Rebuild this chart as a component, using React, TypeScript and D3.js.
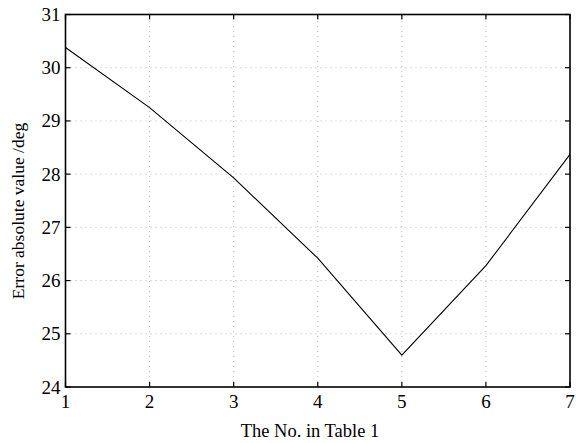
import React from "react";
import * as d3 from "d3";

const xValues = [1, 2, 3, 4, 5, 6, 7];
const yValues = [30.38, 29.25, 27.93, 26.42, 24.6, 26.28, 28.37];
const xTicks = [1, 2, 3, 4, 5, 6, 7];
const yTicks = [24, 25, 26, 27, 28, 29, 30, 31];
const xLabel = "The No. in Table 1";
const yLabel = "Error absolute value /deg";

export default function App() {
  const W = 576, H = 443;
  const m = { left: 65.5, right: 6, top: 14.5, bottom: 56 };
  const x = d3.scaleLinear().domain([1, 7]).range([m.left, W - m.right]);
  const y = d3.scaleLinear().domain([24, 31]).range([H - m.bottom, m.top]);
  const line = d3.line<number>().x((_, i) => x(xValues[i])).y((d) => y(d));
  const font = "'Liberation Serif', 'Times New Roman', serif";
  const x0 = x(1), x1 = x(7), y0 = y(24), y1 = y(31);
  const tl = 5;
  return (
    <svg width={W} height={H} style={{ position: "absolute", left: 0, top: 0, background: "#fff" }}>
      <rect width={W} height={H} fill="#fff" />
      {xTicks.slice(1, -1).map((t) => (
        <line key={"gx" + t} x1={x(t)} x2={x(t)} y1={y0} y2={y1} stroke="#bbb" strokeWidth={1} strokeDasharray="1,4" />
      ))}
      {yTicks.slice(1, -1).map((t) => (
        <line key={"gy" + t} x1={x0} x2={x1} y1={y(t)} y2={y(t)} stroke="#bbb" strokeWidth={1} strokeDasharray="1,4" />
      ))}
      <path d={line(yValues) || ""} fill="none" stroke="#000" strokeWidth={1.1} />
      {xTicks.map((t) => (
        <g key={"tx" + t}>
          <line x1={x(t)} x2={x(t)} y1={y0} y2={y0 - tl} stroke="#000" strokeWidth={1.2} />
          <line x1={x(t)} x2={x(t)} y1={y1} y2={y1 + tl} stroke="#000" strokeWidth={1.2} />
          <text x={x(t)} y={y0 + 21} textAnchor="middle" fontFamily={font} fontSize={19}>{t}</text>
        </g>
      ))}
      {yTicks.map((t) => (
        <g key={"ty" + t}>
          <line x1={x0} x2={x0 + tl} y1={y(t)} y2={y(t)} stroke="#000" strokeWidth={1.2} />
          <line x1={x1} x2={x1 - tl} y1={y(t)} y2={y(t)} stroke="#000" strokeWidth={1.2} />
          <text x={x0 - 5} y={y(t) + 6.5} textAnchor="end" fontFamily={font} fontSize={19}>{t}</text>
        </g>
      ))}
      <rect x={x0} y={y1} width={x1 - x0} height={y0 - y1} fill="none" stroke="#000" strokeWidth={1.6} />
      <text x={310} y={437} textAnchor="middle" fontFamily={font} fontSize={18.5}>{xLabel}</text>
      <text transform={`translate(24,211) rotate(-90)`} textAnchor="middle" fontFamily={font} fontSize={17.5}>{yLabel}</text>
    </svg>
  );
}
